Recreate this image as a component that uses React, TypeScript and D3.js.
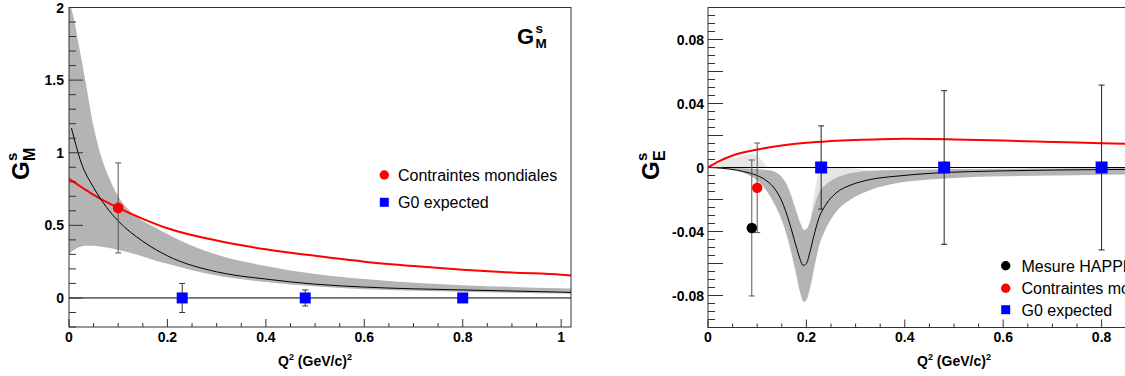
import React from "react";
import * as d3 from "d3";

const W = 1125;
const H = 376;
const FONT = "'Liberation Sans', Arial, Helvetica, sans-serif";

// ---------------- Left panel (G_M^s) data ----------------
const leftXTicks = [0, 0.2, 0.4, 0.6, 0.8, 1];
const leftXTickLabels = ["0", "0.2", "0.4", "0.6", "0.8", "1"];
const leftYTicks = [0, 0.5, 1, 1.5, 2];
const leftYTickLabels = ["0", "0.5", "1", "1.5", "2"];

const leftRedX = [0, 0.05, 0.1, 0.15, 0.2, 0.3, 0.4, 0.5, 0.6, 0.7, 0.8, 0.9, 1.0, 1.02];
const leftRedY = [0.82, 0.71, 0.62, 0.545, 0.48, 0.395, 0.335, 0.29, 0.25, 0.22, 0.195, 0.175, 0.16, 0.155];

const leftBlackX = [0.005, 0.025, 0.05, 0.075, 0.1, 0.15, 0.2, 0.3, 0.4, 0.5, 0.6, 0.8, 1.0, 1.02];
const leftBlackY = [1.17, 0.93, 0.76, 0.63, 0.53, 0.39, 0.29, 0.18, 0.13, 0.095, 0.075, 0.055, 0.04, 0.038];

const leftBandX = [0, 0.01, 0.02, 0.033, 0.05, 0.063, 0.08, 0.1, 0.12, 0.15, 0.178, 0.2, 0.25, 0.3, 0.4, 0.5, 0.6, 0.7, 0.8, 0.9, 1.0, 1.02];
const leftBandHi = [2.05, 1.92, 1.74, 1.5, 1.18, 1.0, 0.84, 0.7, 0.61, 0.53, 0.48, 0.44, 0.36, 0.3, 0.22, 0.165, 0.13, 0.105, 0.088, 0.076, 0.067, 0.065];
const leftBandLo = [0.3, 0.33, 0.35, 0.36, 0.36, 0.355, 0.345, 0.33, 0.315, 0.285, 0.255, 0.235, 0.19, 0.155, 0.11, 0.08, 0.06, 0.05, 0.042, 0.035, 0.03, 0.029];

const leftWorldX = [0.1];
const leftWorldY = [0.62];
const leftWorldErr = [0.31];

const leftG0X = [0.23, 0.48, 0.8];
const leftG0Y = [0, 0, 0];
const leftG0Err = [0.1, 0.055, 0.02];

// ---------------- Right panel (G_E^s) data ----------------
const rightXTicks = [0, 0.2, 0.4, 0.6, 0.8];
const rightXTickLabels = ["0", "0.2", "0.4", "0.6", "0.8"];
const rightYTicks = [-0.08, -0.04, 0, 0.04, 0.08];
const rightYTickLabels = ["-0.08", "-0.04", "0", "0.04", "0.08"];

const rightRedX = [0, 0.02, 0.05, 0.1, 0.15, 0.2, 0.25, 0.3, 0.35, 0.4, 0.45, 0.5, 0.6, 0.7, 0.8, 0.9, 1.0];
const rightRedY = [0, 0.0035, 0.0075, 0.0112, 0.0138, 0.0155, 0.0165, 0.0172, 0.0177, 0.0179, 0.0178, 0.0175, 0.0168, 0.016, 0.0152, 0.0145, 0.0139];

const rightBlackX = [0, 0.03, 0.06, 0.085, 0.1, 0.12, 0.135, 0.15, 0.165, 0.178, 0.188, 0.193, 0.2, 0.207, 0.215, 0.225, 0.24, 0.26, 0.29, 0.33, 0.38, 0.46, 0.6, 0.8, 1.0];
const rightBlackY = [0, -0.0005, -0.0018, -0.0035, -0.005, -0.0085, -0.013, -0.021, -0.034, -0.048, -0.058, -0.0612, -0.06, -0.053, -0.043, -0.032, -0.023, -0.016, -0.011, -0.0075, -0.0055, -0.0035, -0.0021, -0.0013, -0.0009];

const rightBandX = [0, 0.04, 0.07, 0.09, 0.11, 0.13, 0.15, 0.165, 0.178, 0.188, 0.195, 0.2, 0.207, 0.215, 0.225, 0.24, 0.26, 0.29, 0.33, 0.38, 0.45, 0.5, 0.6, 0.7, 0.8, 1.0];
const rightBandHi = [0, -0.0002, -0.0005, -0.0008, -0.0013, -0.002, -0.006, -0.014, -0.026, -0.035, -0.039, -0.0385, -0.034, -0.025, -0.016, -0.0105, -0.0065, -0.0035, -0.002, -0.0015, -0.0012, -0.001, -0.0008, -0.0006, -0.0005, -0.0004];
const rightBandLo = [0, -0.0008, -0.003, -0.006, -0.011, -0.02, -0.033, -0.048, -0.065, -0.079, -0.084, -0.083, -0.076, -0.064, -0.05, -0.038, -0.028, -0.02, -0.014, -0.01, -0.0075, -0.0065, -0.0055, -0.005, -0.0045, -0.004];

const rightLight1X = [0, 0.03, 0.06, 0.09, 0.105, 0.12];
const rightLight1Hi = [0, 0.0035, 0.0065, 0.0085, 0.006, 0];
const rightLight1Lo = [0, 0, 0, 0, 0, 0];

const rightLight2X = [0.207, 0.215, 0.225, 0.24, 0.26, 0.29, 0.33];
const rightLight2Hi = [-0.034, -0.018, -0.004, -0.0005, 0, -0.0005, -0.002];
const rightLight2Lo = [-0.034, -0.025, -0.016, -0.0105, -0.0065, -0.0035, -0.002];

const rightHappexX = [0.089];
const rightHappexY = [-0.0378];
const rightHappexErr = [0.0425];

const rightWorldX = [0.1];
const rightWorldY = [-0.0127];
const rightWorldErr = [0.028];

const rightG0X = [0.23, 0.48, 0.8];
const rightG0Y = [0, 0, 0];
const rightG0Err = [0.026, 0.048, 0.0515];

const legendLeft = ["Contraintes mondiales", "G0 expected"];
const legendRight = ["Mesure HAPPEX", "Contraintes mondiales", "G0 expected"];

// ---------------- helpers ----------------
const zip = (xs: number[], ys: number[]) => xs.map((x, i) => [x, ys[i]] as [number, number]);
const zip3 = (xs: number[], hi: number[], lo: number[]) => xs.map((x, i) => ({ x, hi: hi[i], lo: lo[i] }));
const rnd = (v: number) => Math.round(v * 100000) / 100000;

const FRAME = "#333";

function RotLabel({ x, y, sub }: { x: number; y: number; sub: string }) {
  return (
    <g transform={`translate(${x},${y}) rotate(-90)`} fontFamily={FONT} fontWeight="bold">
      <text x={0} y={0} fontSize={24}>G</text>
      <text x={19} y={-12} fontSize={15}>s</text>
      <text x={19} y={6} fontSize={16}>{sub}</text>
    </g>
  );
}

function XTitle({ cx, y }: { cx: number; y: number }) {
  return (
    <text x={cx} y={y} textAnchor="middle" fontFamily={FONT} fontWeight="bold" fontSize={14}>
      <tspan>Q</tspan>
      <tspan dy={-6} fontSize={9}>2</tspan>
      <tspan dy={6}> (GeV/c)</tspan>
      <tspan dy={-6} fontSize={9}>2</tspan>
    </text>
  );
}

function ErrBar({ cx, y1, y2, color }: { cx: number; y1: number; y2: number; color: string }) {
  return (
    <g stroke={color} strokeWidth={1}>
      <line x1={cx} x2={cx} y1={y1} y2={y2} />
      <line x1={cx - 3} x2={cx + 3} y1={y1} y2={y1} />
      <line x1={cx - 3} x2={cx + 3} y1={y2} y2={y2} />
    </g>
  );
}

function LeftPanel() {
  const x0 = 69, x1 = 571, y0 = 7.5, y1 = 327;
  const x = d3.scaleLinear().domain([0, 1.02]).range([x0, x1]);
  const y = d3.scaleLinear().domain([-0.2, 2]).range([y1, y0]);
  const line = d3.line<[number, number]>().x((d) => x(d[0])).y((d) => y(d[1])).curve(d3.curveMonotoneX);
  const area = d3
    .area<{ x: number; hi: number; lo: number }>()
    .x((d) => x(d.x))
    .y0((d) => y(d.lo))
    .y1((d) => y(d.hi))
    .curve(d3.curveMonotoneX);

  const yMinor = d3.range(-2, 21).map((i) => rnd(i * 0.1)).filter((v) => !leftYTicks.some((t) => Math.abs(t - v) < 1e-6));
  const xMinor = d3.range(0, 21).map((i) => rnd(i * 0.05)).filter((v) => !leftXTicks.some((t) => Math.abs(t - v) < 1e-6));

  return (
    <g>
      <defs>
        <clipPath id="clipL">
          <rect x={x0} y={y0} width={x1 - x0} height={y1 - y0} />
        </clipPath>
      </defs>
      <g clipPath="url(#clipL)">
        <path d={area(zip3(leftBandX, leftBandHi, leftBandLo)) || ""} fill="#b4b4b4" />
        <line x1={x0} x2={x1} y1={y(0)} y2={y(0)} stroke="#000" strokeWidth={1} />
        <path d={line(zip(leftRedX, leftRedY)) || ""} fill="none" stroke="#f00" strokeWidth={2} />
        <path d={line(zip(leftBlackX, leftBlackY)) || ""} fill="none" stroke="#000" strokeWidth={1} />
        {leftWorldX.map((v, i) => (
          <ErrBar key={"we" + i} cx={x(v)} y1={y(leftWorldY[i] + leftWorldErr[i])} y2={y(leftWorldY[i] - leftWorldErr[i])} color="#555" />
        ))}
        {leftG0X.map((v, i) => (
          <ErrBar key={"ge" + i} cx={x(v)} y1={y(leftG0Y[i] + leftG0Err[i])} y2={y(leftG0Y[i] - leftG0Err[i])} color="#333" />
        ))}
        {leftWorldX.map((v, i) => (
          <circle key={"wc" + i} cx={x(v)} cy={y(leftWorldY[i])} r={5.3} fill="#f00" />
        ))}
        {leftG0X.map((v, i) => (
          <rect key={"gs" + i} x={x(v) - 5.5} y={y(leftG0Y[i]) - 5.5} width={11} height={11} fill="#00f" />
        ))}
      </g>
      <rect x={x0} y={y0} width={x1 - x0} height={y1 - y0} fill="none" stroke={FRAME} strokeWidth={1} />
      {leftYTicks.map((t) => (
        <line key={"ly" + t} x1={x0} x2={x0 + 14} y1={y(t)} y2={y(t)} stroke={FRAME} />
      ))}
      {yMinor.map((t) => (
        <line key={"lym" + t} x1={x0} x2={x0 + 7} y1={y(t)} y2={y(t)} stroke={FRAME} />
      ))}
      {leftYTicks.map((t, i) => (
        <text key={"lyl" + t} x={x0 - 5} y={y(t) + 5} textAnchor="end" fontFamily={FONT} fontWeight="bold" fontSize={14}>
          {leftYTickLabels[i]}
        </text>
      ))}
      {leftXTicks.map((t) => (
        <line key={"lx" + t} x1={x(t)} x2={x(t)} y1={y1} y2={y1 - 8} stroke={FRAME} />
      ))}
      {xMinor.map((t) => (
        <line key={"lxm" + t} x1={x(t)} x2={x(t)} y1={y1} y2={y1 - 4} stroke={FRAME} />
      ))}
      {leftXTicks.map((t, i) => (
        <text key={"lxl" + t} x={x(t)} y={342} textAnchor="middle" fontFamily={FONT} fontWeight="bold" fontSize={14}>
          {leftXTickLabels[i]}
        </text>
      ))}
      <XTitle cx={(x0 + x1) / 2 - 5} y={366} />
      <RotLabel x={29} y={180} sub="M" />
      <g fontFamily={FONT} fontWeight="bold">
        <text x={517} y={43.5} fontSize={22}>G</text>
        <text x={535.5} y={32.5} fontSize={13.5}>s</text>
        <text x={535.5} y={47.5} fontSize={13.5}>M</text>
      </g>
      <g fontFamily={FONT} fontSize={16}>
        <circle cx={384.3} cy={175} r={4.7} fill="#f00" />
        <text x={398} y={181}>{legendLeft[0]}</text>
        <rect x={379.8} y={197.8} width={9} height={9} fill="#00f" />
        <text x={398} y={208}>{legendLeft[1]}</text>
      </g>
    </g>
  );
}

function RightPanel() {
  const x0 = 708, x1 = 1200, y0 = 7.5, y1 = 327.5;
  const x = d3.scaleLinear().domain([0, 1]).range([x0, x1]);
  const y = d3.scaleLinear().domain([-0.1, 0.1]).range([y1, y0]);
  const line = d3.line<[number, number]>().x((d) => x(d[0])).y((d) => y(d[1])).curve(d3.curveMonotoneX);
  const area = d3
    .area<{ x: number; hi: number; lo: number }>()
    .x((d) => x(d.x))
    .y0((d) => y(d.lo))
    .y1((d) => y(d.hi))
    .curve(d3.curveMonotoneX);

  const yMajor = d3.range(-5, 6).map((i) => rnd(i * 0.02));
  const yMinor = d3.range(-20, 21).map((i) => rnd(i * 0.005)).filter((v) => !yMajor.some((t) => Math.abs(t - v) < 1e-6));
  const xMajor = d3.range(0, 6).map((i) => rnd(i * 0.2));
  const xMinor = d3.range(0, 21).map((i) => rnd(i * 0.05)).filter((v) => !xMajor.some((t) => Math.abs(t - v) < 1e-6));

  return (
    <g>
      <defs>
        <clipPath id="clipR">
          <rect x={x0} y={y0} width={x1 - x0} height={y1 - y0} />
        </clipPath>
      </defs>
      <g clipPath="url(#clipR)">
        <path d={area(zip3(rightLight1X, rightLight1Hi, rightLight1Lo)) || ""} fill="#e6e6e6" />
        <path d={area(zip3(rightLight2X, rightLight2Hi, rightLight2Lo)) || ""} fill="#e6e6e6" />
        <path d={area(zip3(rightBandX, rightBandHi, rightBandLo)) || ""} fill="#b4b4b4" />
        <line x1={x0} x2={x1} y1={y(0)} y2={y(0)} stroke="#000" strokeWidth={1} />
        <path d={line(zip(rightRedX, rightRedY)) || ""} fill="none" stroke="#f00" strokeWidth={2} />
        <path d={line(zip(rightBlackX, rightBlackY)) || ""} fill="none" stroke="#000" strokeWidth={1} />
        {rightHappexX.map((v, i) => (
          <ErrBar key={"he" + i} cx={x(v)} y1={y(rightHappexY[i] + rightHappexErr[i])} y2={y(rightHappexY[i] - rightHappexErr[i])} color="#555" />
        ))}
        {rightWorldX.map((v, i) => (
          <ErrBar key={"we" + i} cx={x(v)} y1={y(rightWorldY[i] + rightWorldErr[i])} y2={y(rightWorldY[i] - rightWorldErr[i])} color="#555" />
        ))}
        {rightG0X.map((v, i) => (
          <ErrBar key={"ge" + i} cx={x(v)} y1={y(rightG0Y[i] + rightG0Err[i])} y2={y(rightG0Y[i] - rightG0Err[i])} color="#222" />
        ))}
        {rightHappexX.map((v, i) => (
          <circle key={"hc" + i} cx={x(v)} cy={y(rightHappexY[i])} r={5.2} fill="#000" />
        ))}
        {rightWorldX.map((v, i) => (
          <circle key={"wc" + i} cx={x(v)} cy={y(rightWorldY[i])} r={5.2} fill="#f00" />
        ))}
        {rightG0X.map((v, i) => (
          <rect key={"gs" + i} x={x(v) - 6} y={y(rightG0Y[i]) - 6} width={12} height={12} fill="#00f" />
        ))}
      </g>
      <rect x={x0} y={y0} width={x1 - x0} height={y1 - y0} fill="none" stroke={FRAME} strokeWidth={1} />
      {yMajor.map((t) => (
        <line key={"ry" + t} x1={x0} x2={x0 + 15} y1={y(t)} y2={y(t)} stroke={FRAME} />
      ))}
      {yMinor.map((t) => (
        <line key={"rym" + t} x1={x0} x2={x0 + 7} y1={y(t)} y2={y(t)} stroke={FRAME} />
      ))}
      {rightYTicks.map((t, i) => (
        <text key={"ryl" + t} x={x0 - 4} y={y(t) + 5} textAnchor="end" fontFamily={FONT} fontWeight="bold" fontSize={14}>
          {rightYTickLabels[i]}
        </text>
      ))}
      {xMajor.map((t) => (
        <line key={"rx" + t} x1={x(t)} x2={x(t)} y1={y1} y2={y1 - 8} stroke={FRAME} />
      ))}
      {xMinor.map((t) => (
        <line key={"rxm" + t} x1={x(t)} x2={x(t)} y1={y1} y2={y1 - 4} stroke={FRAME} />
      ))}
      {rightXTicks.map((t, i) => (
        <text key={"rxl" + t} x={x(t)} y={342} textAnchor="middle" fontFamily={FONT} fontWeight="bold" fontSize={14}>
          {rightXTickLabels[i]}
        </text>
      ))}
      <XTitle cx={(x0 + x1) / 2} y={366} />
      <RotLabel x={659} y={180} sub="E" />
      <g fontFamily={FONT} fontSize={16}>
        <circle cx={1005.7} cy={265.7} r={4.7} fill="#000" />
        <text x={1021.5} y={271.5}>{legendRight[0]}</text>
        <circle cx={1005.7} cy={288.3} r={4.7} fill="#f00" />
        <text x={1021.5} y={294}>{legendRight[1]}</text>
        <rect x={1001.2} y={305.2} width={9} height={9} fill="#00f" />
        <text x={1021.5} y={315.5}>{legendRight[2]}</text>
      </g>
    </g>
  );
}

export default function App() {
  return (
    <svg
      width={W}
      height={H}
      viewBox={`0 0 ${W} ${H}`}
      style={{ position: "absolute", left: 0, top: 0, display: "block", background: "#fff" }}
    >
      <rect x={0} y={0} width={W} height={H} fill="#fff" />
      <LeftPanel />
      <RightPanel />
    </svg>
  );
}
